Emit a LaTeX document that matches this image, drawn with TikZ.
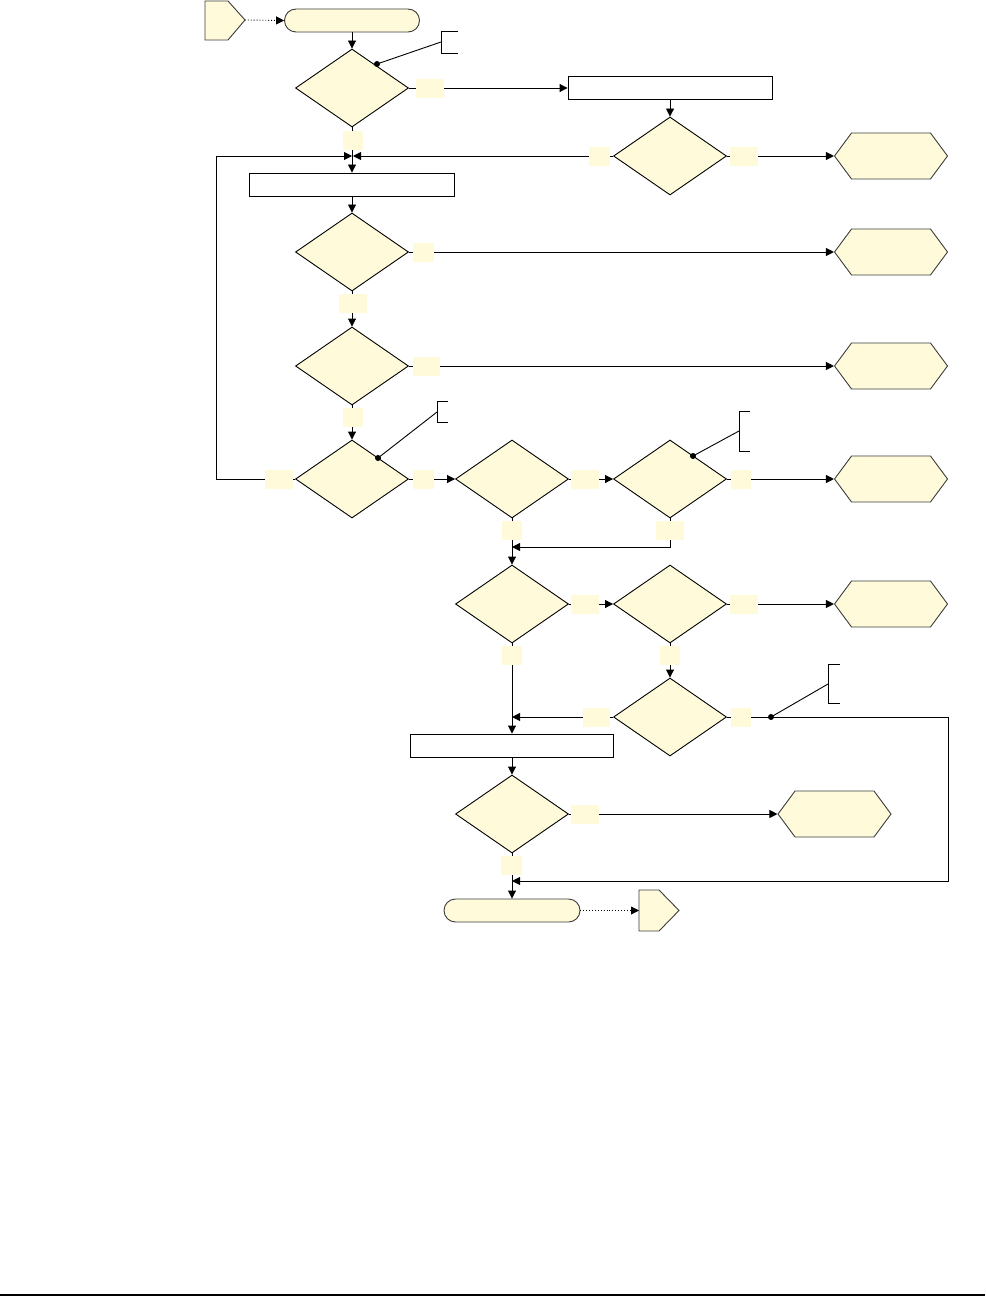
\documentclass[tikz,border=0pt]{standalone}
\usetikzlibrary{shapes.geometric,shapes.misc,shapes.symbols,arrows.meta}
\definecolor{yel}{RGB}{255,251,218}
\definecolor{edgegray}{RGB}{60,60,60}
\begin{document}
\begin{tikzpicture}[x=1pt,y=-1pt,line width=0.9pt,
  dia/.style={diamond,draw=black,fill=yel,minimum width=113pt,minimum height=78pt,inner sep=0pt},
  hexa/.style={signal,signal to=east and west,signal pointer angle=107,draw=edgegray,fill=yel,minimum width=113pt,minimum height=46pt,inner sep=0pt},
  offpg/.style={draw=edgegray,fill=yel},
  termi/.style={rounded rectangle,draw=edgegray,fill=yel,minimum width=135pt,minimum height=23pt,inner sep=0pt},
  procbox/.style={rectangle,draw=black,fill=white,minimum height=23pt,inner sep=0pt},
  lbl/.style={rectangle,fill=yel,draw=none,minimum width=28pt,minimum height=19pt,inner sep=0pt},
  lbls/.style={lbl,minimum width=20pt},
  arr/.style={-{Triangle[length=8pt,width=8pt]}},
  dotarr/.style={arr,dotted},
  cdot/.style={circle,fill=black,draw=none,minimum size=6pt,inner sep=0pt},
  brk/.style={line width=0.8pt}]
\useasboundingbox (0,0) rectangle (985,1297);

% off-page connectors
\draw[offpg] (205,1) -- (228,1) -- (245,20) -- (228,40) -- (205,40) -- cycle;
\coordinate (op1) at (245,20);
\draw[offpg] (639,890) -- (659,890) -- (679,910.5) -- (659,931) -- (639,931) -- cycle;
\coordinate (op2) at (639,910.5);

% shapes
\node[termi] (t1) at (352,20.5) {};
\node[dia] (d1) at (352,88) {};
\node[procbox,minimum width=204pt] (r1) at (670,88) {};
\node[dia] (d2) at (670,156) {};
\node[hexa] (h1) at (891,156) {};
\node[procbox,minimum width=205pt] (r2) at (352,184.5) {};
\node[dia] (d3) at (352,252) {};
\node[hexa] (h2) at (891,252) {};
\node[dia] (d4) at (352,366) {};
\node[hexa] (h3) at (891,366) {};
\node[dia] (d5) at (352,479) {};
\node[dia] (d6) at (512,479) {};
\node[dia] (d7) at (670,479) {};
\node[hexa] (h4) at (891,479) {};
\node[dia] (d8) at (512,604) {};
\node[dia] (d9) at (670,604) {};
\node[hexa] (h5) at (891,604) {};
\node[dia] (d10) at (670,717) {};
\node[procbox,minimum width=203pt] (r3) at (512,745.5) {};
\node[dia] (d11) at (512,814) {};
\node[hexa] (h6) at (834.5,814) {};
\node[termi,minimum width=136pt] (t2) at (512,910.5) {};

% junction coordinates
\coordinate (j1) at (352,156);
\coordinate (lp) at (216,156);
\coordinate (j2) at (670,547);
\coordinate (j3) at (512,547);
\coordinate (j4) at (512,717);
\coordinate (rc1) at (948,717);
\coordinate (rc2) at (948,881);
\coordinate (j5) at (512,881);

% connectors
\draw[dotarr] (op1) -- (t1.west);
\draw[arr] (t1.south) -- (d1.north);
\draw[arr] (d1.east) -- (r1.west);
\draw[arr] (r1.south) -- (d2.north);
\draw (d1.south) -- (j1);
\draw[arr] (j1) -- (r2.north);
\draw[arr] (d2.west) -- ([xshift=1pt]j1);
\draw[arr] (d5.west) -| (lp) -- (j1);
\draw[arr] (d2.east) -- (h1.west);
\draw[arr] (r2.south) -- (d3.north);
\draw[arr] (d3.east) -- (h2.west);
\draw[arr] (d3.south) -- (d4.north);
\draw[arr] (d4.east) -- (h3.west);
\draw[arr] (d4.south) -- (d5.north);
\draw[arr] (d5.east) -- (d6.west);
\draw[arr] (d6.east) -- (d7.west);
\draw[arr] (d7.east) -- (h4.west);
\draw[arr] (d7.south) -- (j2) -- (j3);
\draw[arr] (d6.south) -- (d8.north);
\draw[arr] (d8.east) -- (d9.west);
\draw[arr] (d9.east) -- (h5.west);
\draw[arr] (d9.south) -- (d10.north);
\draw[arr] (d10.west) -- (j4);
\draw[arr] (d8.south) -- (r3.north);
\draw[arr] (d10.east) -- (rc1) -- (rc2) -- (j5);
\draw[arr] (r3.south) -- (d11.north);
\draw[arr] (d11.east) -- (h6.west);
\draw[arr] (d11.south) -- (t2.north);
\draw[dotarr] (t2.east) -- (op2);

% branch labels
\node[lbl] (l1r) at (430,88.5) {};
\node[lbls] (l1b) at (353,141) {};
\node[lbl,minimum width=21pt] (l2l) at (599.5,156.5) {};
\node[lbl] (l2r) at (744,156.5) {};
\node[lbl,minimum width=21pt] (l3r) at (423.5,252.5) {};
\node[lbl] (l3b) at (353,303.5) {};
\node[lbl,minimum width=27pt] (l4r) at (426.5,366.5) {};
\node[lbls] (l4b) at (353,417.5) {};
\node[lbl] (l5l) at (279,479.5) {};
\node[lbl,minimum width=21pt] (l5r) at (423.5,479.5) {};
\node[lbl] (l6r) at (585,479.5) {};
\node[lbls] (l6b) at (512,530.5) {};
\node[lbls] (l7r) at (741,479.5) {};
\node[lbl] (l7b) at (670,530.5) {};
\node[lbl] (l8r) at (585,604.5) {};
\node[lbls] (l8b) at (512,655.5) {};
\node[lbl] (l9r) at (744,604.5) {};
\node[lbls] (l9b) at (670,655.5) {};
\node[lbl,minimum width=27pt] (l10l) at (596.5,717.5) {};
\node[lbls] (l10r) at (741,717.5) {};
\node[lbl] (l11r) at (585,814.5) {};
\node[lbl,minimum width=21pt] (l11b) at (511.5,865.5) {};

% callouts
\node[cdot] (c1d) at (377,64) {};
\coordinate (c1b) at (441,42);
\draw (c1d.center) -- (c1b);
\draw[brk] (458,31) -- (441,31) -- (441,53) -- (458,53);

\node[cdot] (c2d) at (378,458) {};
\coordinate (c2b) at (437,412);
\draw (c2d.center) -- (c2b);
\draw[brk] (448,401) -- (437,401) -- (437,422) -- (448,422);

\node[cdot] (c3d) at (693,456) {};
\coordinate (c3b) at (739,431);
\draw (c3d.center) -- (c3b);
\draw[brk] (750,411) -- (739,411) -- (739,451) -- (750,451);

\node[cdot] (c4d) at (771,717) {};
\coordinate (c4b) at (828,684);
\draw (c4d.center) -- (c4b);
\draw[brk] (840,664) -- (828,664) -- (828,703) -- (840,703);

% footer rule
\coordinate (fl) at (0,1295);
\coordinate (fr) at (985,1295);
\draw[line width=1.8pt] (fl) -- (fr);
\end{tikzpicture}
\end{document}
